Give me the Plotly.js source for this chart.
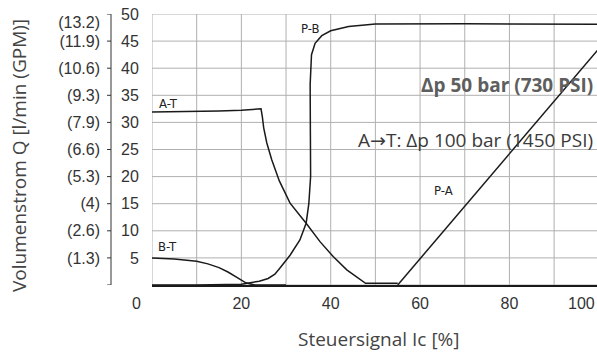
<!DOCTYPE html>
<html>
<head>
<meta charset="utf-8">
<script src="https://cdn.plot.ly/plotly-3.0.1.min.js"></script>
<style>html,body{margin:0;padding:0;background:#fff;overflow:hidden;}#chart{width:597px;height:352px;}</style>
</head>
<body>
<div id="chart"></div>
<script>
// ---- data ----
const atX = [0, 5, 10, 15, 20, 23, 24.4, 24.7, 25.0, 25.7, 26.8, 28.5, 30.9, 34.5, 37.6, 40.6, 43.6, 47.8, 55];
const atY = [31.9, 31.95, 32.0, 32.1, 32.25, 32.4, 32.5, 31.0, 29.0, 26.2, 23.1, 19.2, 15.1, 11.4, 8.0, 5.2, 2.8, 0.3, 0.3];

const btX = [0, 5, 10, 12.5, 15, 17, 19, 21, 23, 30];
const btY = [5.0, 4.8, 4.4, 3.9, 3.2, 2.4, 1.4, 0.4, 0, 0];

const pbX = [0, 10, 20, 21.2, 24, 26, 27.5, 28.6, 30.9, 33.1, 34.5, 35.1, 35.5, 35.45, 35.4, 35.7, 36.5, 38, 40, 44, 50, 70, 100];
const pbY = [0, 0, 0.15, 0.3, 0.7, 1.2, 2.0, 3.1, 5.5, 8.3, 11.4, 15.0, 20.0, 28.0, 37.0, 42.5, 44.6, 46.0, 46.9, 47.7, 48.15, 48.2, 48.1];

const paX = [55, 100];
const paY = [0, 43.6];

const xTickVals = [0, 10, 20, 30, 40, 50, 60, 70, 80, 90, 100];
const xTickText = ['0', '', '20', '', '40', '', '60', '', '80', '', '100'];
const yTickVals = [0, 5, 10, 15, 20, 25, 30, 35, 40, 45, 50];
const yTickText = ['', '5', '10', '15', '20', '25', '30', '35', '40', '45', '50'];
const gpmText = ['', '(1.3)', '(2.6)', '(4)', '(5.3)', '(6.6)', '(7.9)', '(9.3)', '(10.6)', '(11.9)', '(13.2)'];

// ---- layout helpers ----
const W = 597, H = 352;
const plotLeft = 152;
const axisLinePx = 111;
const tickFont = {family: 'Liberation Sans, Arial, sans-serif', size: 16, color: '#333'};
const smallFont = {family: 'DejaVu Sans Condensed, Liberation Sans Narrow, Liberation Sans, sans-serif', size: 13, color: '#222'};
const titleFont = {family: 'Open Sans, Noto Sans, sans-serif', size: 19, color: '#444'};
const noteFont = {family: 'Open Sans, Noto Sans, sans-serif', size: 19, color: '#3a3a3a'};
const boldFont = {family: 'Open Sans, Noto Sans, sans-serif', size: 19, color: '#5e5e5e'};
const gridColor = '#b0b0b0';
const yMin = yTickVals[0], yMax = yTickVals[yTickVals.length - 1];
const xMin = xTickVals[0], xMax = xTickVals[xTickVals.length - 1];

function curve(x, y) {
  return {x: x, y: y, mode: 'lines', line: {color: '#1a1a1a', width: 1.5},
          hoverinfo: 'skip', showlegend: false};
}
function holder(axis) {
  return {x: [xTickVals[0]], y: [yTickVals[0]], mode: 'markers',
          marker: {opacity: 0, size: 1}, hoverinfo: 'skip', showlegend: false, yaxis: axis};
}

// grid drawn as line traces on the main axes (built from the tick arrays)
const gx = [], gy = [];
xTickVals.forEach(v => { gx.push(v, v, null); gy.push(yMin, yMax, null); });
yTickVals.forEach(v => { gx.push(xMin, xMax, null); gy.push(v, v, null); });
const gridTrace = {x: gx, y: gy, mode: 'lines', line: {color: gridColor, width: 1},
                   hoverinfo: 'skip', showlegend: false, connectgaps: false};

// left axis line + small ticks, in a helper area (x2/y4) whose x unit is one pixel
const ax = [axisLinePx, axisLinePx, null], ay = [yMin, yMax, null];
yTickVals.forEach(v => { ax.push(axisLinePx - 4, axisLinePx, null); ay.push(v, v, null); });
const axisTrace = {x: ax, y: ay, mode: 'lines', line: {color: '#333', width: 1},
                   hoverinfo: 'skip', showlegend: false, xaxis: 'x2', yaxis: 'y4', cliponaxis: false};

const data = [gridTrace, curve(atX, atY), curve(btX, btY), curve(pbX, pbY), curve(paX, paY),
              axisTrace, holder('y2')];

const layout = {
  width: W, height: H,
  margin: {l: 0, r: 0, t: 14, b: 67},
  showlegend: false,
  xaxis: {
    domain: [plotLeft / W, 1], range: [0, 99.6],
    tickmode: 'array', tickvals: xTickVals, ticktext: xTickText.map((t, i) => (i === 0 || i === 10) ? '' : t),
    showgrid: false, showline: true, linecolor: '#1a1a1a', linewidth: 1.5,
    ticks: 'outside', ticklen: 3, tickcolor: 'rgba(0,0,0,0)', tickfont: tickFont, zeroline: false
  },
  // main axis: the l/min labels (right-aligned just left of the plot)
  yaxis: {
    range: [0, 50], tickmode: 'array', tickvals: yTickVals, ticktext: yTickText, tickfont: tickFont,
    ticks: 'outside', ticklen: 9, tickcolor: 'rgba(0,0,0,0)', showgrid: false, zeroline: false
  },
  // GPM labels
  yaxis2: {
    range: [0, 50], overlaying: 'y', anchor: 'free', position: 100 / W, side: 'left', showgrid: false,
    showline: false, zeroline: false, tickmode: 'array', tickvals: yTickVals.map(v => v === 50 ? 48.4 : v),
    ticktext: gpmText, tickfont: tickFont
  },
  // helper area left of the plot for the separate axis line
  xaxis2: {domain: [0, plotLeft / W], range: [0, plotLeft], visible: false, anchor: 'y4'},
  yaxis4: {domain: [0, 1], range: [0, 50], visible: false, anchor: 'x2'},
  annotations: [
    {text: xTickText[0], xref: 'paper', yref: 'paper', x: 136 / W, y: (285 - 303) / 271,
     xanchor: 'center', yanchor: 'middle', showarrow: false, font: tickFont},
    {text: xTickText[10], xref: 'paper', yref: 'paper', x: 1, y: (285 - 303) / 271,
     xanchor: 'right', yanchor: 'middle', showarrow: false, font: tickFont},
    {text: 'Volumenstrom Q [l/min (GPM)]', xref: 'paper', yref: 'paper', x: 19 / W, y: (285 - 156) / 271,
     textangle: -90, xanchor: 'center', yanchor: 'middle', showarrow: false, font: titleFont},
    {text: 'Steuersignal Ic [%]', xref: 'paper', yref: 'paper', x: 379 / W, y: (285 - 339) / 271,
     xanchor: 'center', yanchor: 'middle', showarrow: false, font: titleFont},
    {text: 'A-T', xref: 'x', yref: 'y', x: 1.1, y: 33.4, xanchor: 'left', yanchor: 'middle', showarrow: false, font: smallFont},
    {text: 'B-T', xref: 'x', yref: 'y', x: 0.9, y: 7.1, xanchor: 'left', yanchor: 'middle', showarrow: false, font: smallFont},
    {text: 'P-B', xref: 'x', yref: 'y', x: 32.8, y: 47.3, xanchor: 'left', yanchor: 'middle', showarrow: false, font: smallFont},
    {text: 'P-A', xref: 'x', yref: 'y', x: 62.7, y: 17.4, xanchor: 'left', yanchor: 'middle', showarrow: false, font: smallFont},
    {text: '<b>Δp 50 bar (730 PSI)</b>', xref: 'x', yref: 'y', x: 99.1, y: 36.9, xanchor: 'right', yanchor: 'middle',
     showarrow: false, font: boldFont},
    {text: 'A<span style="font-family:DejaVu Sans">→</span>T: Δp 100 bar (1450 PSI)', xref: 'x', yref: 'y', x: 99.1, y: 26.8,
     xanchor: 'right', yanchor: 'middle', showarrow: false, font: noteFont}
  ]
};

Plotly.newPlot('chart', data, layout, {staticPlot: true, displayModeBar: false});
</script>
</body>
</html>
